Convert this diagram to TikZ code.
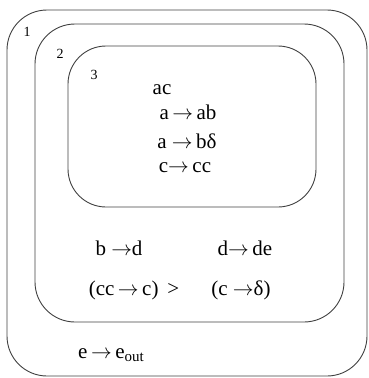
\documentclass[tikz,border=0pt]{standalone}
\usepackage{fontspec}
\setmainfont{Liberation Serif}
\newcommand{\ar}{\ensuremath{\rightarrow}}
\begin{document}
\begin{tikzpicture}[x=1pt,y=-1pt,
  membrane/.style={draw=black!75,line width=0.9pt,rounded corners=40pt},
  lbl/.style={font=\fontsize{14}{16}\selectfont,inner sep=0pt},
  rule/.style={font=\fontsize{21}{23}\selectfont,inner sep=0pt}]
\useasboundingbox (0,0) rectangle (369,378);
\draw[membrane] (7,10) rectangle (367,376);
\draw[membrane] (35,24) rectangle (344,322);
\draw[membrane,rounded corners=38pt] (68,46) rectangle (316,207);
\node[lbl] (n1) at (27,32) {1};
\node[lbl] (n2) at (60,54) {2};
\node[lbl] (n3) at (94,75) {3};
\node[rule] (r0) at (162,90) {ac};
\node[rule] (r1) at (188,112) {a\,\ar\,ab};
\node[rule] (r2) at (187,141) {a \ar\,bδ};
\node[rule] (r3) at (185,168) {c\ar\,cc};
\node[rule] (r4) at (119,248) {b \ar d};
\node[rule] (r5) at (245,248) {d\ar\,de};
\node[rule] (r6) at (134,290) {(cc\,\ar\,c) \,>};
\node[rule] (r7) at (241,290) {(c \ar δ)};
\node[rule] (r8) at (111,355) {e\,\ar\,e\raisebox{-0.25ex}{\fontsize{15}{17}\selectfont out}};
\end{tikzpicture}
\end{document}
